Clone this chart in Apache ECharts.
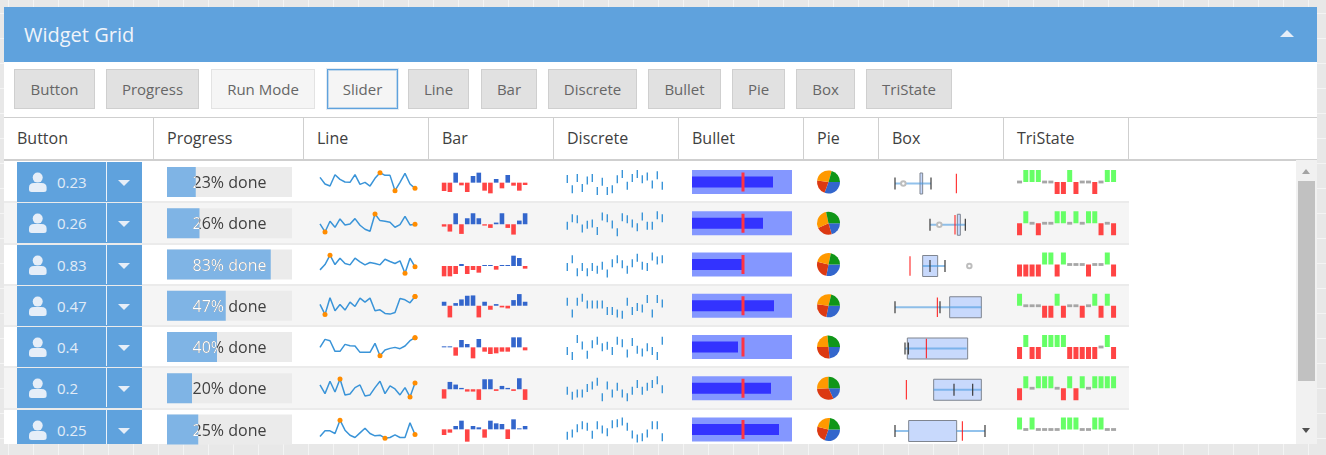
<!DOCTYPE html>
<html>
<head>
<meta charset="utf-8">
<title>Widget Grid</title>
<script src="https://cdn.jsdelivr.net/npm/echarts@6/dist/echarts.min.js"></script>
<style>
  html, body { margin: 0; padding: 0; width: 1326px; height: 455px; overflow: hidden; }
  body {
    font-family: "Open Sans", sans-serif;
    background-color: #e8e8e8;
    background-image: linear-gradient(90deg, #f4f4f4 1px, transparent 1px), linear-gradient(#f4f4f4 1px, transparent 1px);
    background-size: 25px 25px;
    background-position: 8px 13px;
  }
  #panel { position: absolute; left: 4px; top: 7px; width: 1313px; height: 437px; background: #fff; overflow: hidden; }
  #title { position: absolute; left: 0; top: 0; width: 1313px; height: 55px; background: #5fa2dd; }
  #title span { position: absolute; left: 20px; top: 14px; font-size: 20px; line-height: 28px; color: #f0f4fa; }
  #title i { position: absolute; left: 1276px; top: 23px; border-left: 7px solid transparent; border-right: 7px solid transparent; border-bottom: 7px solid #e6eef8; }
  .tool { position: absolute; top: 62px; height: 38px; line-height: 38px; text-align: center; font-size: 15px; color: #666; background: #e1e1e1; border: 1px solid #cfcfcf; box-sizing: content-box; }
  .tool.light { background: #f5f5f5; border-color: #e3e3e3; }
  .tool.focus { background: #f5f5f5; border: 1px solid #5fa2dd; box-shadow: 0 0 0 1px #e3ebf3, inset 0 0 0 1px rgba(95, 162, 221, 0.35); }
  #head { position: absolute; left: 0; top: 110px; width: 1313px; height: 41px; border-top: 1px solid #cfcfcf; border-bottom: 2px solid #cfcfcf; }
  .col { position: absolute; top: 0; height: 41px; line-height: 41px; font-size: 16px; color: #404040; border-right: 1px solid #cfcfcf; box-sizing: border-box; padding-left: 13px; }
  .row { position: absolute; left: 0; width: 1125px; box-sizing: border-box; border-bottom: 2px solid #ebebeb; }
  .btn { position: absolute; left: 13px; width: 125px; background: #5fa2dd; }
  .btn b { position: absolute; left: 40px; top: 9px; font-weight: normal; font-size: 15px; line-height: 22px; color: #e2ecf7; }
  .btn u { position: absolute; left: 89px; top: 0; bottom: 1px; width: 1px; background: #eaf2fa; }
  .btn s { position: absolute; left: 101px; top: 18px; border-left: 6px solid transparent; border-right: 6px solid transparent; border-top: 6px solid #e6eef8; }
  .btn svg { position: absolute; left: 10.5px; top: 10px; }
  #track { position: absolute; left: 1292px; top: 153px; width: 21px; height: 284px; background: #f1f1f1; }
  #thumb { position: absolute; left: 2px; top: 21px; width: 17px; height: 200px; background: #c1c1c1; }
  #up { position: absolute; left: 6px; top: 9px; border-left: 4.5px solid transparent; border-right: 4.5px solid transparent; border-bottom: 5px solid #a3a3a3; }
  #down { position: absolute; left: 6px; top: 268px; border-left: 4.5px solid transparent; border-right: 4.5px solid transparent; border-top: 5px solid #505050; }
  #chart { position: absolute; left: 0; top: 0; width: 1326px; height: 455px; }
  #labels { position: absolute; left: 0; top: 0; width: 1326px; height: 444px; overflow: hidden; }
  .pct { position: absolute; left: 167px; width: 125px; height: 30px; line-height: 30px; text-align: center; font-size: 16px; color: #404040; }
  .pct.on { color: #fff; }
</style>
</head>
<body>
<div id="panel">
  <div id="title"><span>Widget Grid</span><i></i></div>
  <div id="tools"></div>
  <div id="head"></div>
  <div id="rows"></div>
  <div id="track"><div id="up"></div><div id="thumb"></div><div id="down"></div></div>
</div>
<div id="chart"></div>
<div id="labels"></div>
<script>
// toolbar and column titles
var toolNames = ['Button', 'Progress', 'Run Mode', 'Slider', 'Line', 'Bar', 'Discrete', 'Bullet', 'Pie', 'Box', 'TriState'];
var columnNames = ['Button', 'Progress', 'Line', 'Bar', 'Discrete', 'Bullet', 'Pie', 'Box', 'TriState'];

// button value, progress is the same number
var progressValues = [0.23, 0.26, 0.83, 0.47, 0.4, 0.2, 0.25];

// line sparklines
var lineValues = [
  [40, 20, 14, 48, 34, 26, 25, 48, 19, 25, 14, 37, 54, 46, 46, 0, 25, 52, 20, 7],
  [24, 0, 32, 14, 39, 21, 24, 40, 20, 8, 2, 54, 34, 32, 29, 14, 22, 47, 21, 23],
  [10, 26, 54, 26, 45, 29, 25, 45, 34, 25, 32, 29, 25, 42, 35, 29, 37, 0, 45, 19],
  [30, 0, 50, 11, 30, 13, 37, 24, 49, 37, 49, 11, 14, 3, 1, 6, 48, 44, 35, 54],
  [25, 49, 45, 13, 13, 34, 30, 29, 10, 10, 10, 37, 0, 17, 22, 25, 21, 29, 45, 54],
  [36, 10, 47, 15, 54, 6, 9, 28, 36, 3, 6, 28, 47, 10, 33, 24, 6, 28, 0, 42],
  [5, 22, 22, 14, 54, 24, 9, 2, 16, 30, 14, 7, 9, 0, 2, 10, 2, 2, 46, 11]
];

// bar sparklines
var barValues = [
  [-25, -28, 30, -8, -28, 20, 30, -24, -32, 11, -17, 23, -9, -24, -7],
  [-7, -22, 33, -29, 18, 33, 18, -4, -11, 5, 33, -11, -31, 11, 33],
  [-31, -31, -24, 6, -24, -12, -20, 3, 3, -11, 3, 3, 31, 24, -8],
  [12, -35, 8, 19, 30, 31, -35, 12, -12, 5, -5, -8, 17, 35, 12],
  [3, 3, -25, 22, 10, -33, 25, -13, -20, -18, -13, -13, 30, 30, -9],
  [-28, 22, 14, 4, -7, -7, -32, 30, 30, -5, 10, 4, -5, 33, -32],
  [-17, -10, 10, 26, -37, 10, 6, -25, 26, 18, 16, -29, 30, 3, 10]
];
var barAxisMax = [44, 45, 46.5, 42, 43, 45, 41.5];

// discrete sparklines
var discreteValues = [
  [37, 5, 40, 9, 32, 40, 0, 28, 0, 5, 36, 52, 16, 40, 52, 36, 44, 20, 48, 16],
  [19, 41, 38, 11, 22, 26, 4, 46, 41, 23, 0, 44, 38, 26, 15, 46, 19, 19, 50, 41],
  [19, 42, 4, 19, 4, 19, 11, 23, 0, 30, 42, 27, 11, 30, 46, 23, 19, 50, 38, 42],
  [39, 4, 39, 51, 31, 31, 31, 31, 11, 11, 4, 0, 39, 11, 23, 19, 47, 4, 47, 34],
  [15, 0, 52, 32, 4, 36, 47, 27, 31, 15, 47, 39, 8, 43, 19, 11, 27, 15, 0, 47],
  [19, 4, 11, 11, 27, 34, 45, 0, 34, 11, 30, 11, 0, 19, 38, 19, 30, 38, 49, 23],
  [8, 15, 31, 40, 35, 11, 40, 27, 19, 43, 46, 51, 35, 12, 0, 4, 15, 40, 40, 4]
];

// bullet: performance, common target and range
var bulletPerformance = [81, 71, 51, 82, 46, 79, 87];
var bulletTarget = 51;
var bulletRange = 100;

// pie slices: blue, red, orange, green
var pieValues = [
  [110, 78, 98, 74],
  [74, 81, 103, 102],
  [101, 93, 88, 78],
  [101, 87, 96, 76],
  [85, 95, 85, 95],
  [65, 113, 92, 90],
  [110, 84, 84, 82]
];
var pieColors = ['#3366cc', '#dc3912', '#ff9900', '#109618'];

// box sparklines
var boxQ1 = [120, 232, 128, 209, 82, 161, 86];
var boxQ3 = [128, 241, 173, 304, 263, 304, 230];
var boxWhiskers = [[[45, 153]], [[150, 256]], [[128, 195]], [[45, 304]], [[75, 260]], [[161, 304]], [[45, 86], [230, 315]]];
var boxCaps = [[45, 153], [150, 256], [150, 195], [45, 180], [75, 85], [222, 278], [45, 315]];
var boxOutliers = [[70], [178], [268], [], [], [], []];
var boxTargets = [229, 225, 90, 172, 139, 79, 247];

// tristate sparklines
var triValues = [
  [0, 1, 1, 1, 0, 0, -1, -1, 1, -1, 0, 0, -1, 0, 1, 1],
  [-1, 1, 0, -1, 0, 0, 1, 1, 0, 1, 0, 1, 1, -1, 0, -1],
  [-1, -1, -1, -1, 1, 1, -1, 1, 0, 0, 0, -1, 0, 0, 1, -1],
  [1, 0, 0, 0, -1, -1, 1, -1, 0, 0, -1, 0, 1, -1, 1, -1],
  [-1, 1, -1, -1, 1, 1, 1, 1, -1, -1, -1, -1, -1, 0, 1, -1],
  [-1, 1, 0, 1, 1, 1, 0, -1, 1, -1, 1, 0, 1, 1, 1, 1],
  [1, 0, 1, 0, 0, 0, 0, 1, 1, 1, 0, 0, 1, 1, 0, 0]
];

var ROW_PITCH = 41.25;
var rowCount = progressValues.length;

// page chrome
function buildChrome() {
  var toolX = [[10, 79], [102, 91], [207, 102], [323, 69], [404, 59], [477, 54], [544, 87], [644, 71], [728, 51], [792, 57], [862, 84]];
  var html = '';
  toolNames.forEach(function (name, i) {
    var cls = name === 'Run Mode' ? ' light' : (name === 'Slider' ? ' focus' : '');
    html += '<div class="tool' + cls + '" style="left:' + toolX[i][0] + 'px;width:' + toolX[i][1] + 'px">' + name + '</div>';
  });
  document.getElementById('tools').innerHTML = html;

  var colX = [0, 150, 300, 425, 550, 675, 800, 875, 1000, 1125];
  html = '';
  columnNames.forEach(function (name, i) {
    html += '<div class="col" style="left:' + colX[i] + 'px;width:' + (colX[i + 1] - colX[i]) + 'px">' + name + '</div>';
  });
  document.getElementById('head').innerHTML = html;

  var icon = '<svg width="20" height="20" viewBox="0 0 20 20"><circle cx="9.7" cy="5.6" r="5" fill="#e6eef8"/>' +
    '<path d="M1 15.5 Q1 11 6 11 L13.5 11 Q18.6 11 18.6 15.5 L18.6 18 Q18.6 20 16 20 L3.5 20 Q1 20 1 18 Z" fill="#e6eef8"/></svg>';
  html = '';
  var labels = '';
  progressValues.forEach(function (val, i) {
    var top = 155 + ROW_PITCH * i;
    var shade = i % 2 === 1 ? 'background:#f5f5f5;' : '';
    html += '<div class="row" style="top:' + top + 'px;height:' + ROW_PITCH + 'px;' + shade + '"></div>';
    html += '<div class="btn" style="top:' + top + 'px;height:' + (ROW_PITCH - 1.25) + 'px">' + icon +
      '<b>' + val + '</b><u></u><s></s></div>';
    var pct = Math.round(val * 100);
    var y = 167 + ROW_PITCH * i;
    labels += '<div class="pct" style="top:' + y + 'px">' + pct + '% done</div>';
    labels += '<div class="pct on" style="top:' + y + 'px;clip-path:inset(0 ' + (100 - pct) + '% 0 0)">' + pct + '% done</div>';
  });
  document.getElementById('rows').innerHTML = html;
  document.getElementById('labels').innerHTML = labels;
}

var grids = [], xAxes = [], yAxes = [], series = [];

// one hidden grid per sparkline, returns its index
function addGrid(left, top, width, height, xAxis, yAxis) {
  xAxis.show = false;
  yAxis.show = false;
  grids.push({ left: left, top: top, width: width, height: height, containLabel: false });
  xAxis.gridIndex = grids.length - 1;
  yAxis.gridIndex = grids.length - 1;
  xAxes.push(xAxis);
  yAxes.push(yAxis);
  return grids.length - 1;
}

function indexList(list) {
  return list.map(function (v, i) { return i; });
}

function addProgress(i) {
  var g = addGrid(167, 167 + ROW_PITCH * i, 125, 30, { type: 'value', min: 0, max: 1 }, { type: 'category', data: ['p'] });
  series.push({ type: 'bar', xAxisIndex: g, yAxisIndex: g, data: [1], barWidth: '100%', itemStyle: { color: '#ebebeb' }, silent: true });
  series.push({ type: 'bar', xAxisIndex: g, yAxisIndex: g, data: [progressValues[i]], barWidth: '100%', barGap: '-100%', itemStyle: { color: '#7fb4e5' }, silent: true });
}

function addLine(i) {
  var values = lineValues[i];
  var g = addGrid(320, 172.7 + ROW_PITCH * i, 95, 18,
    { type: 'category', boundaryGap: false, data: indexList(values) },
    { type: 'value', min: Math.min.apply(null, values), max: Math.max.apply(null, values) });
  series.push({ type: 'line', xAxisIndex: g, yAxisIndex: g, data: values, showSymbol: false, lineStyle: { color: '#3a94d8', width: 1.5 }, silent: true });
  // min, max and last point
  var marks = [values.indexOf(Math.min.apply(null, values)), values.indexOf(Math.max.apply(null, values)), values.length - 1];
  series.push({
    type: 'scatter', xAxisIndex: g, yAxisIndex: g, symbolSize: 5, itemStyle: { color: '#ff8c00', opacity: 1 }, silent: true, z: 3,
    data: marks.map(function (idx) { return [idx, values[idx]]; })
  });
}

function addBar(i) {
  var values = barValues[i];
  var g = addGrid(441.2, 168 + ROW_PITCH * i, 86.8, 30,
    { type: 'category', data: indexList(values) },
    { type: 'value', min: barAxisMax[i] - 90, max: barAxisMax[i] });
  series.push({
    type: 'bar', xAxisIndex: g, yAxisIndex: g, barWidth: 4.6, silent: true,
    data: values.map(function (v) { return { value: v, itemStyle: { color: v < 0 ? '#ff4444' : '#3366cc' } }; })
  });
}

function addDiscrete(i) {
  var values = discreteValues[i];
  var g = addGrid(567.3, 174 + ROW_PITCH * i, 95, 17,
    { type: 'category', boundaryGap: false, data: indexList(values) },
    { type: 'value', min: Math.min.apply(null, values), max: Math.max.apply(null, values) });
  series.push({
    type: 'scatter', xAxisIndex: g, yAxisIndex: g, symbol: 'rect', symbolSize: [1.4, 8], silent: true,
    itemStyle: { color: '#3a94d8', opacity: 1 },
    data: values.map(function (v, idx) { return [idx, v]; })
  });
}

function addBullet(i) {
  var top = 170 + ROW_PITCH * i;
  var xAxis = function () { return { type: 'value', min: 0, max: bulletRange }; };
  var yAxis = function () { return { type: 'category', data: ['b'] }; };
  var g1 = addGrid(692, top, 100, 24, xAxis(), yAxis());
  series.push({ type: 'bar', xAxisIndex: g1, yAxisIndex: g1, data: [bulletRange], barWidth: 24, itemStyle: { color: '#8497ff' }, silent: true });
  var g2 = addGrid(692, top, 100, 24, xAxis(), yAxis());
  series.push({ type: 'bar', xAxisIndex: g2, yAxisIndex: g2, data: [bulletPerformance[i]], barWidth: 11, itemStyle: { color: '#3333ff' }, silent: true, z: 3 });
  series.push({
    type: 'scatter', xAxisIndex: g2, yAxisIndex: g2, data: [[bulletTarget, 'b']], symbol: 'rect', symbolSize: [3, 19], silent: true, z: 4,
    itemStyle: { color: '#ff3344', opacity: 1 }
  });
}

function addPie(i) {
  series.push({
    type: 'pie', center: [828.5, 182 + ROW_PITCH * i], radius: [0, 11.5], startAngle: 0, clockwise: true, silent: true,
    label: { show: false }, labelLine: { show: false }, color: pieColors, avoidLabelOverlap: false,
    data: pieValues[i].map(function (v) { return { value: v }; })
  });
}

function addBox(i) {
  var g = addGrid(880, 173 + ROW_PITCH * i, 120, 21, { type: 'value', min: 0, max: 360 }, { type: 'value', min: 0, max: 1 });
  series.push({
    type: 'custom', xAxisIndex: g, yAxisIndex: g, silent: true, clip: false,
    data: [[boxQ1[i], boxQ3[i]]],
    renderItem: function (params, api) {
      var y = api.coord([0, 0.5])[1];
      var x1 = api.coord([api.value(0), 0.5])[0];
      var x2 = api.coord([api.value(1), 0.5])[0];
      var children = [{
        type: 'rect', shape: { x: x1, y: y - 10.5, width: x2 - x1, height: 21 },
        style: { fill: '#c8d9fc', stroke: '#7f8590', lineWidth: 1 }
      }];
      boxWhiskers[i].forEach(function (w) {
        children.push({
          type: 'line',
          shape: { x1: api.coord([w[0], 0.5])[0], y1: y, x2: api.coord([w[1], 0.5])[0], y2: y },
          style: { stroke: '#4a9ae0', lineWidth: 2, opacity: 0.6 }
        });
      });
      boxCaps[i].forEach(function (c) {
        var cx = api.coord([c, 0.5])[0];
        children.push({
          type: 'line', shape: { x1: cx, y1: y - 6, x2: cx, y2: y + 6 },
          style: { stroke: '#3a3a3a', lineWidth: 1.2 }
        });
      });
      return { type: 'group', children: children };
    }
  });
  series.push({
    type: 'scatter', xAxisIndex: g, yAxisIndex: g, symbol: 'emptyCircle', symbolSize: 4.5, silent: true,
    itemStyle: { color: '#bdbdbd', opacity: 1, borderWidth: 0.8 },
    data: boxOutliers[i].map(function (v) { return [v, 0.5]; })
  });
  series.push({
    type: 'scatter', xAxisIndex: g, yAxisIndex: g, symbol: 'rect', symbolSize: [1, 19.5], silent: true, z: 4,
    itemStyle: { color: '#ff1111', opacity: 1 },
    data: [[boxTargets[i], 0.5]]
  });
}

function addTriState(i) {
  var values = triValues[i];
  var g = addGrid(1016.4, 170 + ROW_PITCH * i, 100.3, 24,
    { type: 'category', data: indexList(values) },
    { type: 'value', min: -1, max: 1 });
  series.push({
    type: 'bar', xAxisIndex: g, yAxisIndex: g, barWidth: 5, silent: true,
    data: values.map(function (v) { return { value: v, itemStyle: { color: v > 0 ? '#66ff66' : '#ff4444' } }; })
  });
  series.push({
    type: 'scatter', xAxisIndex: g, yAxisIndex: g, symbol: 'rect', symbolSize: [5, 2.8], silent: true,
    itemStyle: { color: '#a6a6a6', opacity: 1 },
    data: values.map(function (v, idx) { return [idx, v]; }).filter(function (p) { return p[1] === 0; })
  });
}

buildChrome();
for (var i = 0; i < rowCount; i++) {
  addProgress(i);
  addLine(i);
  addBar(i);
  addDiscrete(i);
  addBullet(i);
  addPie(i);
  addBox(i);
  addTriState(i);
}

var chart = echarts.init(document.getElementById('chart'), null, { renderer: 'canvas' });
chart.setOption({
  animation: false,
  backgroundColor: 'transparent',
  tooltip: { show: false },
  grid: grids,
  xAxis: xAxes,
  yAxis: yAxes,
  series: series
});
</script>
</body>
</html>
